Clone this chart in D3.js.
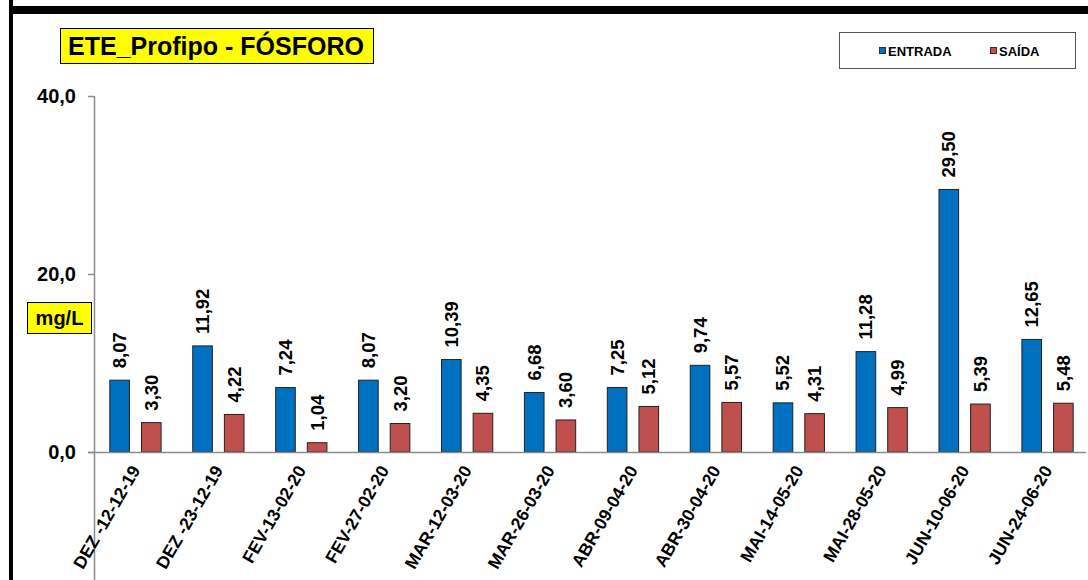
<!DOCTYPE html>
<html>
<head>
<meta charset="utf-8">
<script src="https://cdn.jsdelivr.net/npm/d3@7"></script>
<style>
  body { margin: 0; background: #fff; }
  svg { display: block; font-family: "Liberation Sans", Arial, sans-serif; }
</style>
</head>
<body>
<div id="chart"></div>
<script>
var categories = ["DEZ -12-12-19", "DEZ -23-12-19", "FEV-13-02-20", "FEV-27-02-20",
  "MAR-12-03-20", "MAR-26-03-20", "ABR-09-04-20", "ABR-30-04-20",
  "MAI-14-05-20", "MAI-28-05-20", "JUN-10-06-20", "JUN-24-06-20"];
var entrada = [8.07, 11.92, 7.24, 8.07, 10.39, 6.68, 7.25, 9.74, 5.52, 11.28, 29.50, 12.65];
var saida = [3.30, 4.22, 1.04, 3.20, 4.35, 3.60, 5.12, 5.57, 4.31, 4.99, 5.39, 5.48];
var yTicks = [0, 20, 40];
var seriesNames = ["ENTRADA", "SAÍDA"];
var seriesColors = ["#0070C0", "#C0504D"];

var width = 1088, height = 580;
var svg = d3.select("#chart").append("svg")
  .attr("width", width)
  .attr("height", height);

// frame lines (top bar + left bar)
svg.append("rect").attr("x", 9).attr("y", 6).attr("width", width - 9).attr("height", 8).attr("fill", "#000");
svg.append("rect").attr("x", 9).attr("y", 0).attr("width", 4).attr("height", height).attr("fill", "#000");

var x = d3.scaleBand().domain(categories).range([94, 1089]);
var y = d3.scaleLinear().domain([0, 40]).range([452, 96]);
var sub = d3.scaleBand().domain(seriesNames).range([0, x.bandwidth()]).paddingInner(0.38).paddingOuter(0.5);

// y axis
svg.append("line").attr("x1", 94.5).attr("x2", 94.5).attr("y1", y(40)).attr("y2", height)
  .attr("stroke", "#8c8c8c").attr("stroke-width", 1.5);
svg.selectAll(".ytick").data(yTicks).enter().append("line")
  .attr("x1", 88).attr("x2", 94).attr("y1", d => y(d) + 0.5).attr("y2", d => y(d) + 0.5)
  .attr("stroke", "#8c8c8c").attr("stroke-width", 1.5);
svg.selectAll(".ylab").data(yTicks).enter().append("text")
  .attr("x", 76).attr("y", d => y(d)).attr("dy", "0.35em")
  .attr("text-anchor", "end").attr("font-weight", "bold").attr("font-size", 20)
  .text(d => d3.format(".1f")(d).replace(".", ","));

// bars
var groups = svg.selectAll(".grp").data(categories).enter().append("g")
  .attr("transform", d => "translate(" + x(d) + ",0)");

[entrada, saida].forEach(function (vals, si) {
  groups.append("rect")
    .attr("x", sub(seriesNames[si]))
    .attr("width", sub.bandwidth())
    .attr("y", (d, i) => y(vals[i]))
    .attr("height", (d, i) => y(0) - y(vals[i]))
    .attr("fill", seriesColors[si])
    .attr("stroke", "#222")
    .attr("stroke-width", 1);
  groups.append("text")
    .attr("transform", (d, i) => "translate(" + (sub(seriesNames[si]) + sub.bandwidth() / 2 + 6.5) + "," + (y(vals[i]) - 12) + ") rotate(-90)")
    .attr("font-weight", "bold").attr("font-size", 18.5)
    .text((d, i) => d3.format(".2f")(vals[i]).replace(".", ","));
});

// x axis baseline
svg.append("line").attr("x1", 88).attr("x2", 1086).attr("y1", y(0) + 0.5).attr("y2", y(0) + 0.5)
  .attr("stroke", "#8c8c8c").attr("stroke-width", 1.5);

// x labels
svg.selectAll(".xlab").data(categories).enter().append("text")
  .attr("transform", d => "translate(" + (x(d) + x.bandwidth() / 2) + ",467) rotate(-60)")
  .attr("text-anchor", "end").attr("dy", "0.35em")
  .attr("font-weight", "bold").attr("font-size", 17.5)
  .text(d => d);

// title box
svg.append("rect").attr("x", 60.5).attr("y", 28.5).attr("width", 313).attr("height", 35)
  .attr("fill", "#ffff00").attr("stroke", "#000").attr("stroke-width", 1);
svg.append("text").attr("x", 216).attr("y", 46).attr("dy", "0.36em")
  .attr("text-anchor", "middle").attr("font-weight", "bold").attr("font-size", 25)
  .text("ETE_Profipo - FÓSFORO");

// unit box
svg.append("rect").attr("x", 27.5).attr("y", 302.5).attr("width", 64).attr("height", 31)
  .attr("fill", "#ffff00").attr("stroke", "#000").attr("stroke-width", 1);
svg.append("text").attr("x", 59.5).attr("y", 318).attr("dy", "0.36em")
  .attr("text-anchor", "middle").attr("font-weight", "bold").attr("font-size", 20)
  .text("mg/L");

// legend
svg.append("rect").attr("x", 839.5).attr("y", 32.5).attr("width", 236).attr("height", 36)
  .attr("fill", "#fff").attr("stroke", "#555").attr("stroke-width", 1);
var legX = [879, 990];
seriesNames.forEach(function (name, i) {
  svg.append("rect").attr("x", legX[i] + 0.5).attr("y", 47.5).attr("width", 6).attr("height", 6)
    .attr("fill", seriesColors[i]).attr("stroke", "#333").attr("stroke-width", 1);
  svg.append("text").attr("x", legX[i] + 9).attr("y", 51).attr("dy", "0.36em")
    .attr("font-weight", "bold").attr("font-size", 13)
    .text(name);
});
</script>
</body>
</html>
